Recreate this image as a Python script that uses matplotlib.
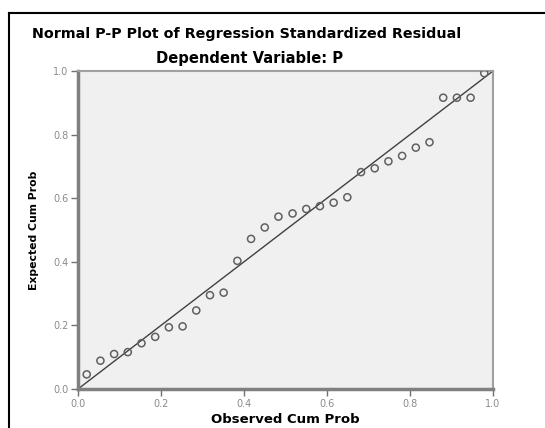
import matplotlib.pyplot as plt

plt.rcParams['font.family'] = ['DejaVu Sans']

# observed vs expected cumulative probabilities
observed = [0.021, 0.054, 0.087, 0.120, 0.153, 0.186, 0.219, 0.252, 0.285, 0.318,
            0.351, 0.384, 0.417, 0.450, 0.483, 0.517, 0.550, 0.583, 0.616, 0.649,
            0.682, 0.715, 0.748, 0.781, 0.814, 0.847, 0.880, 0.913, 0.946, 0.979]
expected = [0.046, 0.089, 0.110, 0.116, 0.144, 0.164, 0.194, 0.197, 0.247, 0.295,
            0.303, 0.403, 0.472, 0.508, 0.542, 0.552, 0.566, 0.575, 0.586, 0.603,
            0.682, 0.694, 0.716, 0.733, 0.759, 0.776, 0.916, 0.916, 0.916, 0.993]
ticks = [0.0, 0.2, 0.4, 0.6, 0.8, 1.0]
tick_labels = ['0.0', '0.2', '0.4', '0.6', '0.8', '1.0']

fig = plt.figure(figsize=(5.45, 4.28), dpi=100)
W, H = 545, 428

# outer frame (left and top edges visible)
fig.add_artist(plt.Line2D([9 / W, 9 / W], [0, 1 - 13 / H], color='black', lw=1.5))
fig.add_artist(plt.Line2D([9 / W, 1], [1 - 13 / H, 1 - 13 / H], color='black', lw=1.5))

ax = fig.add_axes([78 / W, 1 - 389 / H, 415 / W, 318 / H])
ax.set_facecolor('#f0f0f0')

ax.plot([0, 1], [0, 1], color='#404040', lw=1.0, zorder=2)
ax.scatter(observed, expected, s=26, facecolors='none', edgecolors='#606060',
           linewidths=1.1, zorder=3)

ax.set_xlim(0, 1)
ax.set_ylim(0, 1)
ax.set_xticks(ticks)
ax.set_xticklabels(tick_labels)
ax.set_yticks(ticks)
ax.set_yticklabels(tick_labels)
ax.tick_params(direction='out', length=5, width=1, color='#707070',
               labelsize=7, labelcolor='#8a8a8a', pad=2)

for side in ['left', 'bottom']:
    ax.spines[side].set_color('#808080')
    ax.spines[side].set_linewidth(2.5)
for side in ['top', 'right']:
    ax.spines[side].set_color('#a0a0a0')
    ax.spines[side].set_linewidth(1.5)

ax.set_xlabel('Observed Cum Prob', fontsize=9.5, fontweight='bold', labelpad=3)
ax.set_ylabel('Expected Cum Prob', fontsize=7.8, fontweight='bold', labelpad=10)

fig.text(247 / W, 1 - 34 / H, 'Normal P-P Plot of Regression Standardized Residual',
         ha='center', va='center', fontsize=10.3, fontweight='bold')
fig.text(250 / W, 1 - 59 / H, 'Dependent Variable: P',
         ha='center', va='center', fontsize=10.6, fontweight='bold')

fig.savefig('out.png', dpi=100)
